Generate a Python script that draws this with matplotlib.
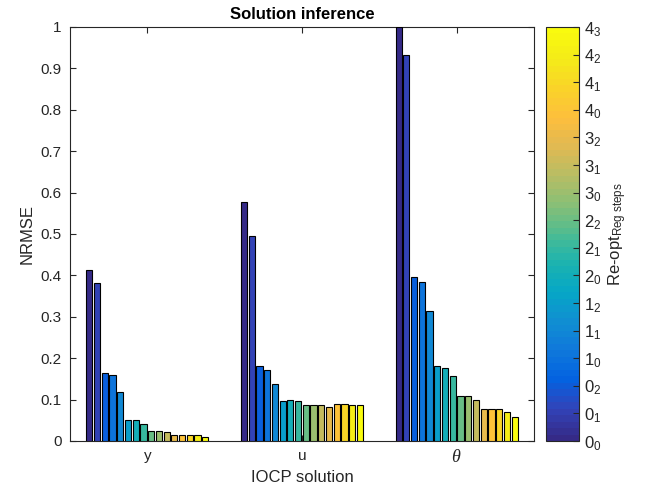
import numpy as np
import matplotlib
matplotlib.use("Agg")
import matplotlib.pyplot as plt
from matplotlib.colors import LinearSegmentedColormap, ListedColormap, Normalize
from matplotlib.cm import ScalarMappable

plt.rcParams['font.family'] = ['Liberation Sans', 'DejaVu Sans']
plt.rcParams['mathtext.fontset'] = 'custom'
plt.rcParams['mathtext.rm'] = 'Liberation Sans'
plt.rcParams['mathtext.it'] = 'Liberation Serif:italic'

# data
groups = ['y', 'u', r'$\theta$']
steps = ['0_0', '0_1', '0_2', '1_0', '1_1', '1_2', '2_0', '2_1', '2_2',
         '3_0', '3_1', '3_2', '4_0', '4_1', '4_2', '4_3']
nrmse_y = [0.413, 0.382, 0.165, 0.159, 0.118, 0.050, 0.050, 0.041,
           0.025, 0.025, 0.022, 0.015, 0.015, 0.014, 0.014, 0.009]
nrmse_u = [0.578, 0.496, 0.180, 0.171, 0.138, 0.097, 0.098, 0.097,
           0.086, 0.087, 0.086, 0.081, 0.089, 0.089, 0.088, 0.086]
nrmse_theta = [1.0, 0.932, 0.397, 0.385, 0.313, 0.180, 0.177, 0.158,
               0.109, 0.108, 0.100, 0.077, 0.077, 0.077, 0.071, 0.059]

# parula-like colormap (anchors taken from the MATLAB map)
parula_pts = [
    (0.2081, 0.1663, 0.5292), (0.1959, 0.2645, 0.7279), (0.0117, 0.3875, 0.8820),
    (0.0629, 0.4737, 0.8554), (0.0641, 0.5570, 0.8240), (0.0228, 0.6535, 0.7768),
    (0.1133, 0.7015, 0.6859), (0.3022, 0.7376, 0.5712), (0.5300, 0.7491, 0.4661),
    (0.7184, 0.7411, 0.3905), (0.8824, 0.7274, 0.3217), (0.9938, 0.7455, 0.2403),
    (0.9789, 0.8271, 0.1633), (0.9598, 0.9218, 0.0948), (0.9763, 0.9831, 0.0538),
]
parula = LinearSegmentedColormap.from_list('parula', parula_pts)
parula64 = ListedColormap(parula(np.linspace(0, 1, 64)))

vals = np.array([nrmse_y, nrmse_u, nrmse_theta])
n = len(steps)

fig = plt.figure(figsize=(6.48, 4.97), dpi=100)
ax = fig.add_axes([0.108, 0.1127, 0.716, 0.8330])

slot = 0.8 / n
x = np.arange(1, len(groups) + 1)
for i in range(n):
    ax.bar(x - 0.4 + slot * (i + 0.5), vals[:, i], width=slot * 0.8,
           color=parula(i / (n - 1)), edgecolor='black', linewidth=0.8, zorder=3)

ax.set_xlim(0.5, 3.5)
ax.set_ylim(0, 1)
ax.set_xticks(x)
ax.set_xticklabels(groups)
ax.set_yticks(np.arange(0, 1.01, 0.1))
ax.set_yticklabels(['0'] + ['%.1f' % v for v in np.arange(0.1, 0.95, 0.1)] + ['1'])
ax.tick_params(direction='in', top=True, right=True, labelsize=11,
               length=4, color='#262626', labelcolor='#262626', pad=6)
ax.get_xticklabels()[2].set_fontsize(13)  # theta looks bigger in the original
for s in ax.spines.values():
    s.set_color('#262626')
    s.set_linewidth(0.8)
ax.set_title('Solution inference', fontsize=12, fontweight='bold', pad=6)
ax.set_ylabel('NRMSE', fontsize=12, color='#262626')
ax.set_xlabel('IOCP solution', fontsize=12, color='#262626', labelpad=3)

cax = fig.add_axes([0.8426, 0.1127, 0.0509, 0.8330])
sm = ScalarMappable(norm=Normalize(0, n - 1), cmap=parula64)
cb = fig.colorbar(sm, cax=cax, ticks=range(n))
cb.ax.set_yticklabels([r'$\mathregular{%s_{%s}}$' % tuple(s.split('_')) for s in steps])
cb.ax.tick_params(direction='in', labelsize=12, length=4, color='#262626',
                  labelcolor='#262626')
cb.outline.set_linewidth(0.8)
cb.outline.set_edgecolor('#262626')
cb.set_label(r'Re-opt$_{\mathregular{Reg\ steps}}$', fontsize=12, color='#262626')

fig.savefig('out.png', dpi=100)
